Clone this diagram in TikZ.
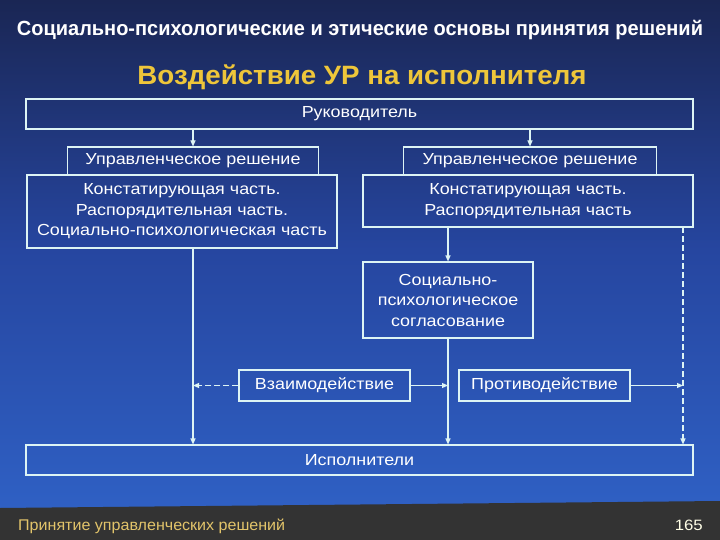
\documentclass[tikz,border=0pt]{standalone}
\usepackage{fontspec}
\setmainfont{Liberation Sans}[FakeStretch=1.12]
\usetikzlibrary{arrows.meta}
\definecolor{bgtop}{HTML}{1A2654}
\definecolor{bgmid}{HTML}{2646A0}
\definecolor{bgbot}{HTML}{3063C8}
\definecolor{foot}{HTML}{333333}
\definecolor{edge}{HTML}{DDF4F4}
\definecolor{gold}{HTML}{EEC63A}
\definecolor{footgold}{HTML}{E2C46A}
\tikzset{
  box/.style={draw=edge, line width=1.1pt, inner sep=0pt, align=center, text=white,
    font=\fontsize{16}{20.5}\selectfont},
  arr/.style={draw=edge, line width=1.1pt, -{Triangle[length=6pt,width=5pt]}},
  darr/.style={arr, dash pattern=on 6pt off 3pt},
}
\begin{document}
\begin{tikzpicture}[x=1pt,y=-1pt]
\useasboundingbox (0,0) rectangle (720,540);
% background
\shade[top color=bgtop, bottom color=bgmid] (0,0) rectangle (720,251);
\shade[top color=bgmid, bottom color=bgbot] (0,250) rectangle (720,540);
\fill[foot] (0,508) -- (720,501) -- (720,540) -- (0,540) -- cycle;
% titles
\node[text=white, inner sep=0pt] (title) at (360,30)
  {\resizebox{686pt}{\height}{\fontsize{20.5}{22}\selectfont\bfseries Социально-психологические и этические основы принятия решений}};
\node[text=gold, inner sep=0pt] (sub) at (362,77)
  {\resizebox{449pt}{\height}{\fontsize{26.5}{28}\selectfont\bfseries Воздействие УР на исполнителя}};
% boxes
\node[box, minimum width=667pt, minimum height=30pt] (ruk) at (359.5,114) {Руководитель};
\node[box, minimum width=251pt, minimum height=28pt] (lud) at (193,161) {Управленческое решение};
\node[box, minimum width=310pt, minimum height=73pt] (lkon) at (182,211.5)
  {Констатирующая часть.\\Распорядительная часть.\\Социально-психологическая часть};
\node[box, minimum width=253pt, minimum height=28pt] (rud) at (530,161) {Управленческое решение};
\node[box, minimum width=330pt, minimum height=52pt] (rkon) at (528,201)
  {Констатирующая часть.\\Распорядительная часть};
\node[box, minimum width=170pt, minimum height=76pt] (soc) at (448,300)
  {Социально-\\психологическое\\согласование};
\node[box, minimum width=171pt, minimum height=31pt] (vz) at (324.5,385.5) {Взаимодействие};
\node[box, minimum width=171pt, minimum height=31pt] (pr) at (544.5,385.5) {Противодействие};
\node[box, minimum width=667pt, minimum height=30pt] (isp) at (359.5,460) {Исполнители};
\coordinate (rd) at (683,227);
% connectors
\draw[arr] (ruk.south -| lud.north) -- (lud.north);
\draw[arr] (ruk.south -| rud.north) -- (rud.north);
\draw[arr] (lkon.south -| lud.north) -- (isp.north -| lud.north);
\draw[arr] (rkon.south -| soc.north) -- (soc.north);
\draw[arr] (soc.south) -- (isp.north -| soc.south);
\draw[darr] (rd) -- (rd |- isp.north);
\draw[arr] (vz.east) -- (vz.east -| soc.south);
\draw[darr] (vz.west) -- (vz.west -| lud.north);
\draw[arr] (pr.east) -- (pr.east -| rd);
% footer
\node[anchor=west, inner sep=0pt, text=footgold] (ft) at (18,526)
  {\resizebox{267pt}{\height}{\fontsize{15.5}{16}\selectfont Принятие управленческих решений}};
\node[anchor=east, inner sep=0pt, text=white!90!yellow, font=\fontsize{15}{15}\selectfont] (pg) at (703,525) {165};
\end{tikzpicture}
\end{document}
